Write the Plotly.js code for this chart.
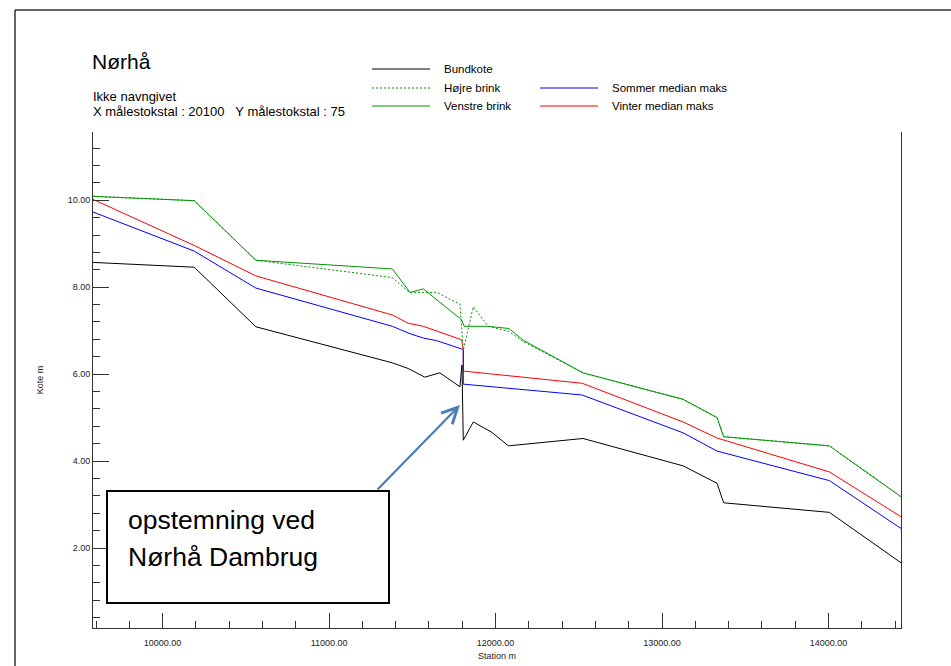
<!DOCTYPE html>
<html>
<head>
<meta charset="utf-8">
<script src="https://cdn.plot.ly/plotly-3.0.1.min.js"></script>
<style>
html,body{margin:0;padding:0;background:#fff;}
#chart{width:951px;height:666px;}
</style>
</head>
<body>
<div id="chart"></div>
<script>
// ---- data (station m, kote m) ----
const bundStation = [9582, 10190, 10560, 11380, 11475, 11575, 11665, 11786, 11798, 11806, 11866, 11978, 12077, 12525, 13126, 13330, 13370, 14005, 14435];
const bundKote    = [8.57, 8.46, 7.09, 6.26, 6.13, 5.93, 6.03, 5.71, 6.21, 4.48, 4.90, 4.66, 4.35, 4.52, 3.89, 3.49, 3.04, 2.82, 1.66];

const hoejreStation = [9582, 10190, 10560, 11380, 11486, 11646, 11786, 11806, 11866, 11956, 12080, 12166, 12525, 13126, 13330, 13370, 14005, 14435];
const hoejreKote    = [10.09, 9.99, 8.62, 8.22, 7.87, 7.88, 7.61, 6.55, 7.55, 7.10, 6.98, 6.75, 6.03, 5.42, 5.00, 4.56, 4.35, 3.18];

const venstreStation = [9582, 10190, 10560, 11380, 11486, 11566, 11796, 11812, 11950, 12080, 12166, 12525, 13126, 13330, 13370, 14005, 14435];
const venstreKote    = [10.09, 9.99, 8.62, 8.42, 7.88, 7.96, 7.25, 7.10, 7.10, 7.05, 6.78, 6.03, 5.42, 5.00, 4.56, 4.35, 3.18];

const sommerStation = [9582, 10190, 10560, 11380, 11486, 11566, 11646, 11796, 11806, 11806, 12520, 13126, 13330, 14005, 14435];
const sommerKote    = [9.73, 8.83, 7.98, 7.10, 6.93, 6.83, 6.77, 6.58, 6.54, 5.77, 5.52, 4.65, 4.23, 3.55, 2.45];

const vinterStation = [9582, 10190, 10560, 11380, 11476, 11566, 11796, 11806, 11806, 12520, 13126, 13330, 14005, 14435];
const vinterKote    = [10.02, 8.96, 8.26, 7.36, 7.17, 7.10, 6.79, 6.55, 6.07, 5.79, 4.90, 4.53, 3.75, 2.72];

const seriesNames = ["Bundkote", "Højre brink", "Venstre brink", "Sommer median maks", "Vinter median maks"];
const titleText = "Nørhå";
const subtitle1 = "Ikke navngivet";
const subtitle2 = "X målestokstal : 20100\u00a0\u00a0\u00a0Y målestokstal : 75";
const noteLines = ["opstemning ved", "Nørhå Dambrug"];
const xTitle = "Station m";
const yTitle = "Kote m";
const damPoint = {station: 11786, kote: 5.29};
const noteAnchor = {station: 11282, kote: 3.31};

// ---- layout helpers (pixel -> paper) ----
const W = 951, H = 666;
const M = {l: 93, r: 50, t: 132, b: 38};
const PW = W - M.l - M.r, PH = H - M.t - M.b;
const px = v => (v - M.l) / PW;
const py = v => (H - M.b - v) / PH;

const GREEN = "rgb(0,150,0)";
const colors = {bund: "#000000", hoejre: GREEN, venstre: GREEN, sommer: "#0000ff", vinter: "#ff0000"};

const traces = [
  {x: vinterStation, y: vinterKote, name: seriesNames[4], mode: "lines", line: {color: colors.vinter, width: 1}},
  {x: sommerStation, y: sommerKote, name: seriesNames[3], mode: "lines", line: {color: colors.sommer, width: 1}},
  {x: hoejreStation, y: hoejreKote, name: seriesNames[1], mode: "lines", line: {color: colors.hoejre, width: 1, dash: "2px,2px"}},
  {x: venstreStation, y: venstreKote, name: seriesNames[2], mode: "lines", line: {color: colors.venstre, width: 1}},
  {x: bundStation, y: bundKote, name: seriesNames[0], mode: "lines", line: {color: colors.bund, width: 1}}
];

// manual legend (two columns)
const legendItems = [
  {name: seriesNames[0], color: colors.bund, dash: "solid", lx: 372, ly: 69},
  {name: seriesNames[1], color: colors.hoejre, dash: "dot", lx: 372, ly: 88},
  {name: seriesNames[2], color: colors.venstre, dash: "solid", lx: 372, ly: 106},
  {name: seriesNames[3], color: colors.sommer, dash: "solid", lx: 540, ly: 88},
  {name: seriesNames[4], color: colors.vinter, dash: "solid", lx: 540, ly: 106}
];

const shapes = [];
const annotations = [];

// outer frame (top and left)
shapes.push({type: "line", xref: "paper", yref: "paper", x0: px(15), x1: px(951), y0: py(10), y1: py(10), line: {color: "#333", width: 1.5}});
shapes.push({type: "line", xref: "paper", yref: "paper", x0: px(15), x1: px(15), y0: py(10), y1: py(666), line: {color: "#333", width: 1.5}});

legendItems.forEach(it => {
  shapes.push({type: "line", xref: "paper", yref: "paper", x0: px(it.lx), x1: px(it.lx + 58), y0: py(it.ly), y1: py(it.ly),
    line: {color: it.color, width: 1, dash: it.dash === "dot" ? "2px,2px" : "solid"}});
  annotations.push({xref: "paper", yref: "paper", x: px(it.lx + 70), y: py(it.ly), xanchor: "left", yanchor: "middle",
    text: it.name, showarrow: false, font: {size: 11.5, color: "#000"}});
});

// header texts
annotations.push({xref: "paper", yref: "paper", x: px(92), y: py(96), xanchor: "left", yanchor: "middle", text: subtitle1, showarrow: false, font: {size: 13, color: "#000"}, borderpad: 0});
annotations.push({xref: "paper", yref: "paper", x: px(92), y: py(111.5), xanchor: "left", yanchor: "middle", text: subtitle2, showarrow: false, font: {size: 13, color: "#000"}, borderpad: 0});

// note box
shapes.push({type: "rect", xref: "paper", yref: "paper", x0: px(107), x1: px(389), y0: py(603), y1: py(491), line: {color: "#000", width: 2}, fillcolor: "#fff", layer: "above"});
annotations.push({xref: "paper", yref: "paper", x: px(126), y: py(520), xanchor: "left", yanchor: "middle", text: noteLines[0], showarrow: false, font: {size: 26.5, color: "#000"}});
annotations.push({xref: "paper", yref: "paper", x: px(126), y: py(557), xanchor: "left", yanchor: "middle", text: noteLines[1], showarrow: false, font: {size: 26.5, color: "#000"}});

// arrow to the dam
annotations.push({xref: "x", yref: "y", x: damPoint.station, y: damPoint.kote, axref: "x", ayref: "y", ax: noteAnchor.station, ay: noteAnchor.kote,
  text: "", showarrow: true, arrowhead: 5, arrowsize: 1.4, arrowwidth: 2.2, arrowcolor: "#4a7ebb"});

const axisCommon = {
  showline: true, linecolor: "#333", linewidth: 1, showgrid: false, zeroline: false,
  ticks: "inside", tickcolor: "#333", tickwidth: 1, tickformat: ".2f",
  tickfont: {size: 9, color: "#222"}
};

const layout = {
  width: W, height: H,
  margin: M,
  paper_bgcolor: "#fff", plot_bgcolor: "#fff",
  font: {family: "Liberation Sans, Arial, sans-serif", color: "#000"},
  showlegend: false,
  title: {text: titleText, x: 92 / W, xanchor: "left", y: 1 - 62 / H, yanchor: "middle", font: {size: 21, color: "#000"}},
  xaxis: Object.assign({}, axisCommon, {
    range: [9582, 14435], dtick: 1000, tick0: 0, ticklen: 15, mirror: false, ticklabelstandoff: 6,
    minor: {dtick: 200, tick0: 0, ticks: "inside", ticklen: 7, tickcolor: "#333", showgrid: false},
    title: {text: xTitle, font: {size: 9, color: "#222"}, standoff: 5}
  }),
  yaxis: Object.assign({}, axisCommon, {
    range: [0.16, 11.57], dtick: 2, tick0: 0, ticklen: 16, mirror: true,
    minor: {dtick: 0.4, tick0: 0, ticks: "inside", ticklen: 7, tickcolor: "#333", showgrid: false},
    title: {text: yTitle, font: {size: 9, color: "#222"}, standoff: 22}
  }),
  shapes: shapes,
  annotations: annotations
};

Plotly.newPlot("chart", traces, layout, {displayModeBar: false, staticPlot: true});
</script>
</body>
</html>
